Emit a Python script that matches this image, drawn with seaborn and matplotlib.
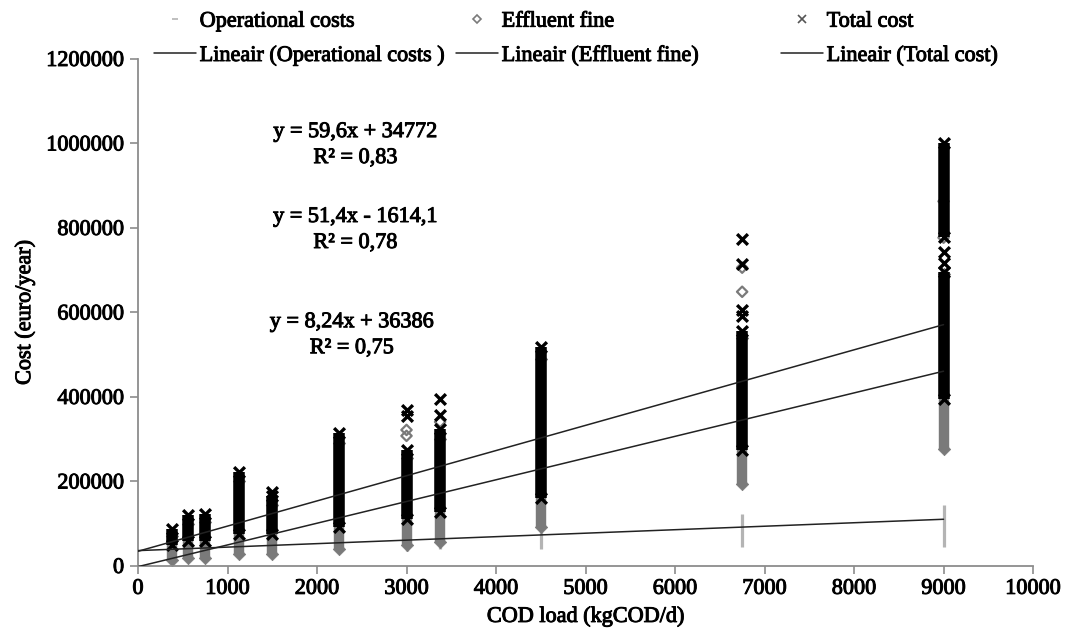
import numpy as np
import pandas as pd
import seaborn as sns
import matplotlib.pyplot as plt
import matplotlib.patheffects as pe
from matplotlib.lines import Line2D

# %%
# COD loads (kgCOD/d) of the scenario columns
loads = [375, 562.5, 750, 1125, 1500, 2250, 3000, 3375, 4500, 6750, 9000]

# dense part of each column (low / high)
op_lo = [20000, 22000, 25000, 30000, 33000, 40000, 35000, 40000, 40000, 45000, 45000]
op_hi = [55000, 60000, 62000, 70000, 75000, 85000, 95000, 95000, 105000, 122000, 145000]

eff_lo = [15000, 20000, 20000, 28000, 28000, 40000, 50000, 57000, 92000, 195000, 278000]
eff_hi = [70000, 100000, 105000, 200000, 145000, 290000, 255000, 300000, 490000, 540000, 690000]

# total cost: 9000 column is split in two dense blocks
tot_x = [375, 562.5, 750, 1125, 1500, 2250, 3000, 3375, 4500, 6750, 9000, 9000]
tot_lo = [50000, 58000, 58000, 75000, 75000, 92000, 110000, 128000, 162000, 275000, 395000, 778000]
tot_hi = [88000, 120000, 122000, 222000, 165000, 315000, 275000, 325000, 518000, 555000, 695000, 1000000]

# single points standing out of the columns
eff_out_x = [3000, 3000, 3375, 6750, 6750, 9000, 9000]
eff_out_y = [308000, 322000, 341000, 649000, 706000, 777000, 863000]
tot_out_x = [1500, 3000, 3000, 3375, 3375, 6750, 6750, 6750, 6750, 9000, 9000]
tot_out_y = [176000, 355000, 370000, 358000, 395000, 592000, 605000, 715000, 775000, 718000, 742000]

# excel trendlines (slope, intercept) and their labels
trends = {'op': (8.24, 36386), 'eff': (51.4, -1614.1), 'tot': (59.6, 34772)}
eq_labels = ['y = 59,6x + 34772\nR² = 0,83',
             'y = 51,4x - 1614,1\nR² = 0,78',
             'y = 8,24x + 36386\nR² = 0,75']
eq_x = [2430, 2430, 2390]
eq_y = [995000, 794000, 545000]

x_ticks = list(range(0, 10001, 1000))
y_ticks = list(range(0, 1200001, 200000))

# %%
sns.set_theme(style='white')
plt.rcParams['font.family'] = ['Liberation Serif', 'DejaVu Serif']
plt.rcParams['text.color'] = 'black'
plt.rcParams['axes.labelcolor'] = 'black'
plt.rcParams['xtick.color'] = 'black'
plt.rcParams['ytick.color'] = 'black'
heavy = [pe.withStroke(linewidth=0.7, foreground='black')]

op_col = '#b4b4b4'
eff_col = '#7a7a7a'
tot_col = 'black'

fig = plt.figure(figsize=(10.79, 6.34), dpi=100)
ax = fig.add_axes([0.1279, 0.1073, 0.8295, 0.7997])

# operational costs
ax.vlines(loads, op_lo, op_hi, color=op_col, lw=2.3, zorder=1)

# effluent fine
ax.vlines(loads, eff_lo, eff_hi, color=eff_col, lw=7.5, zorder=2)
eff_ends = pd.DataFrame({'x': loads * 2, 'y': eff_lo + eff_hi})
sns.scatterplot(data=eff_ends, x='x', y='y', marker='D', s=40, color=eff_col,
                edgecolor=eff_col, linewidth=0.5, ax=ax, zorder=2)
eff_pts = pd.DataFrame({'x': eff_out_x, 'y': eff_out_y})
sns.scatterplot(data=eff_pts, x='x', y='y', marker='D', s=28, facecolors='none',
                edgecolor=eff_col, linewidth=1.6, ax=ax, zorder=3)

# total cost
ax.vlines(tot_x, tot_lo, tot_hi, color=tot_col, lw=8.3, zorder=4)
tot_pts = pd.DataFrame({'x': tot_x * 2 + tot_out_x, 'y': tot_lo + tot_hi + tot_out_y})
sns.scatterplot(data=tot_pts, x='x', y='y', marker='x', s=60, color=tot_col,
                linewidth=2.4, ax=ax, zorder=5)

# trendlines
line_x = np.array([0, 9000])
for key in ['op', 'eff', 'tot']:
    a, b = trends[key]
    sns.lineplot(x=line_x, y=a * line_x + b, color='#222222', lw=1.1, ax=ax, zorder=6)

for lab, xx, yy in zip(eq_labels, eq_x, eq_y):
    ax.text(xx, yy, lab, ha='center', va='center', fontsize=16, linespacing=1.5,
            path_effects=heavy)

ax.set_xlim(0, 10000)
ax.set_ylim(0, 1200000)
ax.set_xticks(x_ticks)
ax.set_xticklabels([str(t) for t in x_ticks], path_effects=heavy)
ax.set_yticks(y_ticks)
ax.set_yticklabels([str(t) for t in y_ticks], path_effects=heavy)
ax.tick_params(direction='out', length=6, width=1.2, color='#8c8c8c', labelsize=16,
               bottom=True, left=True, pad=4)
for s in ['top', 'right']:
    ax.spines[s].set_visible(False)
for s in ['left', 'bottom']:
    ax.spines[s].set_color('#8c8c8c')
    ax.spines[s].set_linewidth(1.3)
ax.set_xlabel('COD load (kgCOD/d)', fontsize=16, labelpad=6, path_effects=heavy)
ax.set_ylabel('Cost (euro/year)', fontsize=16, labelpad=8, path_effects=heavy)

# legend: three columns placed like the excel one
handles = [
    [Line2D([], [], marker='_', ls='none', color=op_col, ms=5, mew=1.2),
     Line2D([], [], color='#222222', lw=1.1)],
    [Line2D([], [], marker='D', ls='none', mfc='none', mec=eff_col, ms=4, mew=1.2),
     Line2D([], [], color='#222222', lw=1.1)],
    [Line2D([], [], marker='x', ls='none', color='#555555', ms=6, mew=1.2),
     Line2D([], [], color='#222222', lw=1.1)],
]
labels = [['Operational costs', 'Lineair (Operational costs )'],
          ['Effluent fine', 'Lineair (Effluent fine)'],
          ['Total cost', 'Lineair (Total cost)']]
leg_left = [143, 445, 770]
for h, l, xl in zip(handles, labels, leg_left):
    lg = fig.legend(h, l, loc='upper left', bbox_to_anchor=(xl / 1079, 1.0),
                    frameon=False, fontsize=16, borderpad=0, handlelength=1.9,
                    handletextpad=0.15, labelspacing=0.62)
    for t in lg.get_texts():
        t.set_path_effects(heavy)

plt.savefig('out.png', dpi=100)
